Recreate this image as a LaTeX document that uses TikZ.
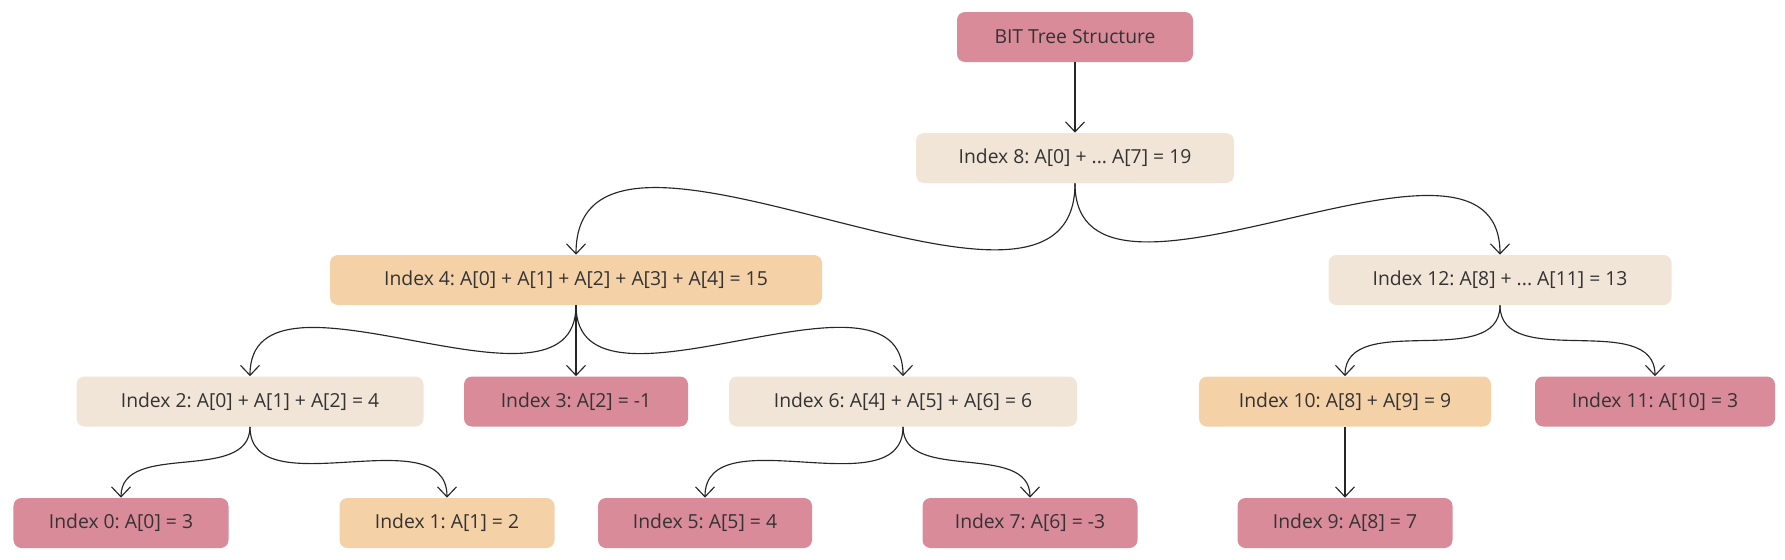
\documentclass[tikz,border=0pt]{standalone}
\usepackage{fontspec}
\setmainfont{Open Sans}
\usetikzlibrary{arrows.meta}
\definecolor{bitPink}{HTML}{D98B99}
\definecolor{bitPeach}{HTML}{F4D1A6}
\definecolor{bitBeige}{HTML}{F1E5D7}
\definecolor{bitText}{HTML}{333333}
\frenchspacing
\tikzset{
    bitNode/.style={rectangle, rounded corners=0.16cm, minimum height=1.0cm,
		inner sep=0pt, text=bitText, font=\fontsize{11}{13}\selectfont},
    pinkNode/.style={bitNode, fill=bitPink},
    peachNode/.style={bitNode, fill=bitPeach},
    beigeNode/.style={bitNode, fill=bitBeige}
}
\tikzset{
    link/.style={-{Straight Barb[length=0.2cm,width=0.38cm]}, line width=0.65pt, black!85},
    curvy/.style={link, out=-90, in=90}
}

\begin{document}
\begin{tikzpicture}
	\useasboundingbox (0,0) rectangle (35.7,-11.2);
	% root
	\node[pinkNode, minimum width=4.72cm] (title) at (21.5,-0.74) {BIT Tree Structure};
	\node[beigeNode, minimum width=6.36cm] (n8) at (21.5,-3.16) {Index 8: A[0] + ... A[7] = 19};
	% second row
	\node[peachNode, minimum width=9.84cm] (n4) at (11.52,-5.6) {Index 4: A[0] + A[1] + A[2] + A[3] + A[4] = 15};
	\node[beigeNode, minimum width=6.86cm] (n12) at (30.0,-5.6) {Index 12: A[8] + ... A[11] = 13};
	% third row
	\node[beigeNode, minimum width=6.94cm] (n2) at (5.0,-8.03) {Index 2: A[0] + A[1] + A[2] = 4};
	\node[pinkNode, minimum width=4.48cm] (n3) at (11.52,-8.03) {Index 3: A[2] = -1};
	\node[beigeNode, minimum width=6.96cm] (n6) at (18.06,-8.03) {Index 6: A[4] + A[5] + A[6] = 6};
	\node[peachNode, minimum width=5.84cm] (n10) at (26.9,-8.03) {Index 10: A[8] + A[9] = 9};
	\node[pinkNode, minimum width=4.8cm] (n11) at (33.1,-8.03) {Index 11: A[10] = 3};
	% leaves
	\node[pinkNode, minimum width=4.3cm] (n0) at (2.42,-10.46) {Index 0: A[0] = 3};
	\node[peachNode, minimum width=4.3cm] (n1) at (8.94,-10.46) {Index 1: A[1] = 2};
	\node[pinkNode, minimum width=4.28cm] (n5) at (14.1,-10.46) {Index 5: A[5] = 4};
	\node[pinkNode, minimum width=4.3cm] (n7) at (20.6,-10.46) {Index 7: A[6] = -3};
	\node[pinkNode, minimum width=4.3cm] (n9) at (26.9,-10.46) {Index 9: A[8] = 7};

	\draw [link] (title.south) -- (n8.north);
	\draw [curvy] (n8.south) to (n4.north);
	\draw [curvy] (n8.south) to (n12.north);
	\draw [curvy] (n4.south) to (n2.north);
	\draw [link] (n4.south) -- (n3.north);
	\draw [curvy] (n4.south) to (n6.north);
	\draw [curvy] (n2.south) to (n0.north);
	\draw [curvy] (n2.south) to (n1.north);
	\draw [curvy] (n6.south) to (n5.north);
	\draw [curvy] (n6.south) to (n7.north);
	\draw [curvy] (n12.south) to (n10.north);
	\draw [curvy] (n12.south) to (n11.north);
	\draw [link] (n10.south) -- (n9.north);
	%\draw [link] (n12.south) -- (n11.north);
\end{tikzpicture}
\end{document}
